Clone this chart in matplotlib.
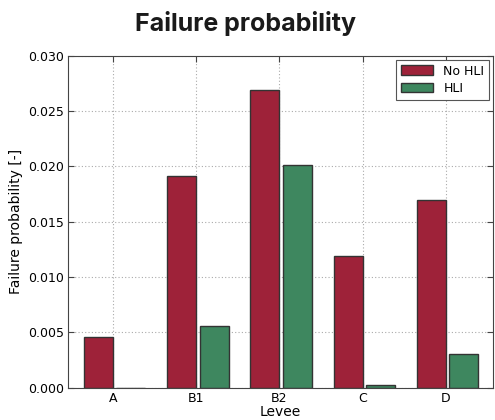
import numpy as np
import matplotlib
matplotlib.use("Agg")
import matplotlib.pyplot as plt

levees = ["A", "B1", "B2", "C", "D"]
no_hli = [0.0046, 0.0191, 0.0269, 0.0119, 0.0170]
hli = [0.0, 0.0056, 0.0201, 0.00025, 0.0030]

red = "#9e2239"
green = "#3e875f"

fig = plt.figure(figsize=(4.95, 4.2), dpi=100)
ax = fig.add_axes([0.137, 0.077, 0.859, 0.79])

ind = np.arange(len(levees))
width = 0.35
ax.bar(ind - width, no_hli, width, align="edge", color=red,
       edgecolor="#333333", linewidth=1, label="No HLI", zorder=3)
ax.bar(ind + 0.04, hli, width, align="edge", color=green,
       edgecolor="#333333", linewidth=1, label="HLI", zorder=3)

ax.set_xlim(-0.543, 4.567)
ax.set_ylim(0, 0.030)
ax.set_yticks(np.arange(0, 0.0301, 0.005))
ax.set_xticks(ind)
ax.set_xticklabels(levees)
ax.yaxis.set_major_formatter(matplotlib.ticker.FormatStrFormatter("%.3f"))

ax.grid(True, linestyle=(0, (1, 2)), color="#aaaaaa", linewidth=0.8, zorder=0)
ax.tick_params(direction="in", top=True, right=True, labelsize=9,
               length=4, color="#444444", pad=3)
for s in ax.spines.values():
    s.set_color("#444444")
ax.spines["bottom"].set_zorder(4)

ax.set_xlabel("Levee", fontsize=10, labelpad=0)
ax.set_ylabel("Failure probability [-]", fontsize=10, labelpad=3)

leg = ax.legend(loc="upper right", fontsize=9, fancybox=False,
                edgecolor="#555555", framealpha=1, borderaxespad=0.3,
                handlelength=2.6, handleheight=0.8, labelspacing=0.35)
leg.get_frame().set_linewidth(0.8)

fig.text(0.495, 0.945, "Failure probability", ha="center", va="center",
         fontsize=18, fontweight="bold", family="Inter", color="#1a1a1a")

fig.savefig("out.png", dpi=100)
